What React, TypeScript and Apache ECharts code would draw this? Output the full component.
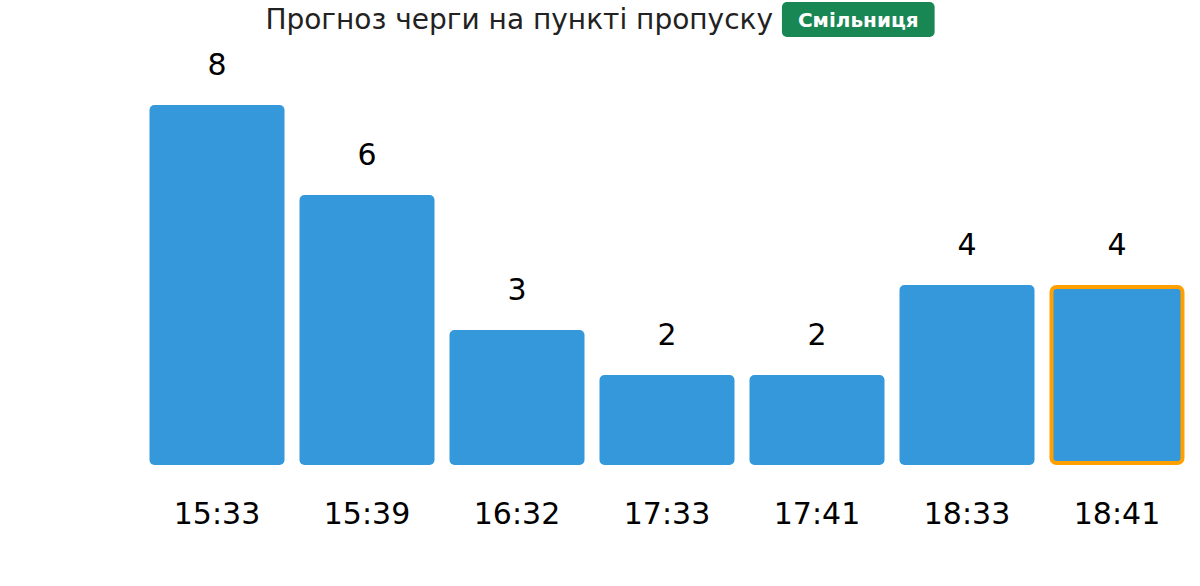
import React, { useEffect, useRef } from "react";
import * as echarts from "echarts";

const categories = ["15:33", "15:39", "16:32", "17:33", "17:41", "18:33", "18:41"];
const queueValues = [8, 6, 3, 2, 2, 4, 4];
const highlightIndex = 6;
const titleText = "Прогноз черги на пункті пропуску";
const checkpointName = "Смільниця";

export default function App() {
  const ref = useRef<HTMLDivElement>(null);
  useEffect(() => {
    document.body.style.margin = "0";
    const chart = echarts.init(ref.current!, null, { renderer: "svg" });
    const font = "DejaVu Sans";
    chart.setOption({
      animation: false,
      textStyle: { fontFamily: font },
      title: {
        text: titleText + " {b|" + checkpointName + "}",
        left: "center",
        top: -3,
        textStyle: {
          fontFamily: font,
          fontSize: 28,
          fontWeight: "normal",
          color: "#222",
          rich: {
            b: {
              fontFamily: font,
              fontSize: 20,
              fontWeight: "bold",
              color: "#fff",
              backgroundColor: "#198754",
              borderRadius: 5,
              padding: [8, 16, 7, 16],
            },
          },
        },
      },
      grid: { left: 142, right: 8, top: 105, bottom: 121 },
      xAxis: {
        type: "category",
        data: categories,
        axisLine: { show: false },
        axisTick: { show: false },
        axisLabel: { fontFamily: font, fontSize: 30, color: "#000", margin: 33 },
      },
      yAxis: { type: "value", min: 0, max: 8, show: false, splitLine: { show: false } },
      series: [
        {
          type: "bar",
          barCategoryGap: "10%",
          data: queueValues.map((v, i) =>
            i === highlightIndex
              ? { value: v, itemStyle: { borderColor: "#ffa000", borderWidth: 4 } }
              : v
          ),
          itemStyle: { color: "#3498db", borderRadius: 5 },
          label: {
            show: true,
            position: "top",
            distance: 26,
            fontFamily: font,
            fontSize: 30,
            color: "#000",
          },
        },
      ],
    });
    return () => chart.dispose();
  }, []);
  return <div ref={ref} style={{ width: 1200, height: 586 }} />;
}
